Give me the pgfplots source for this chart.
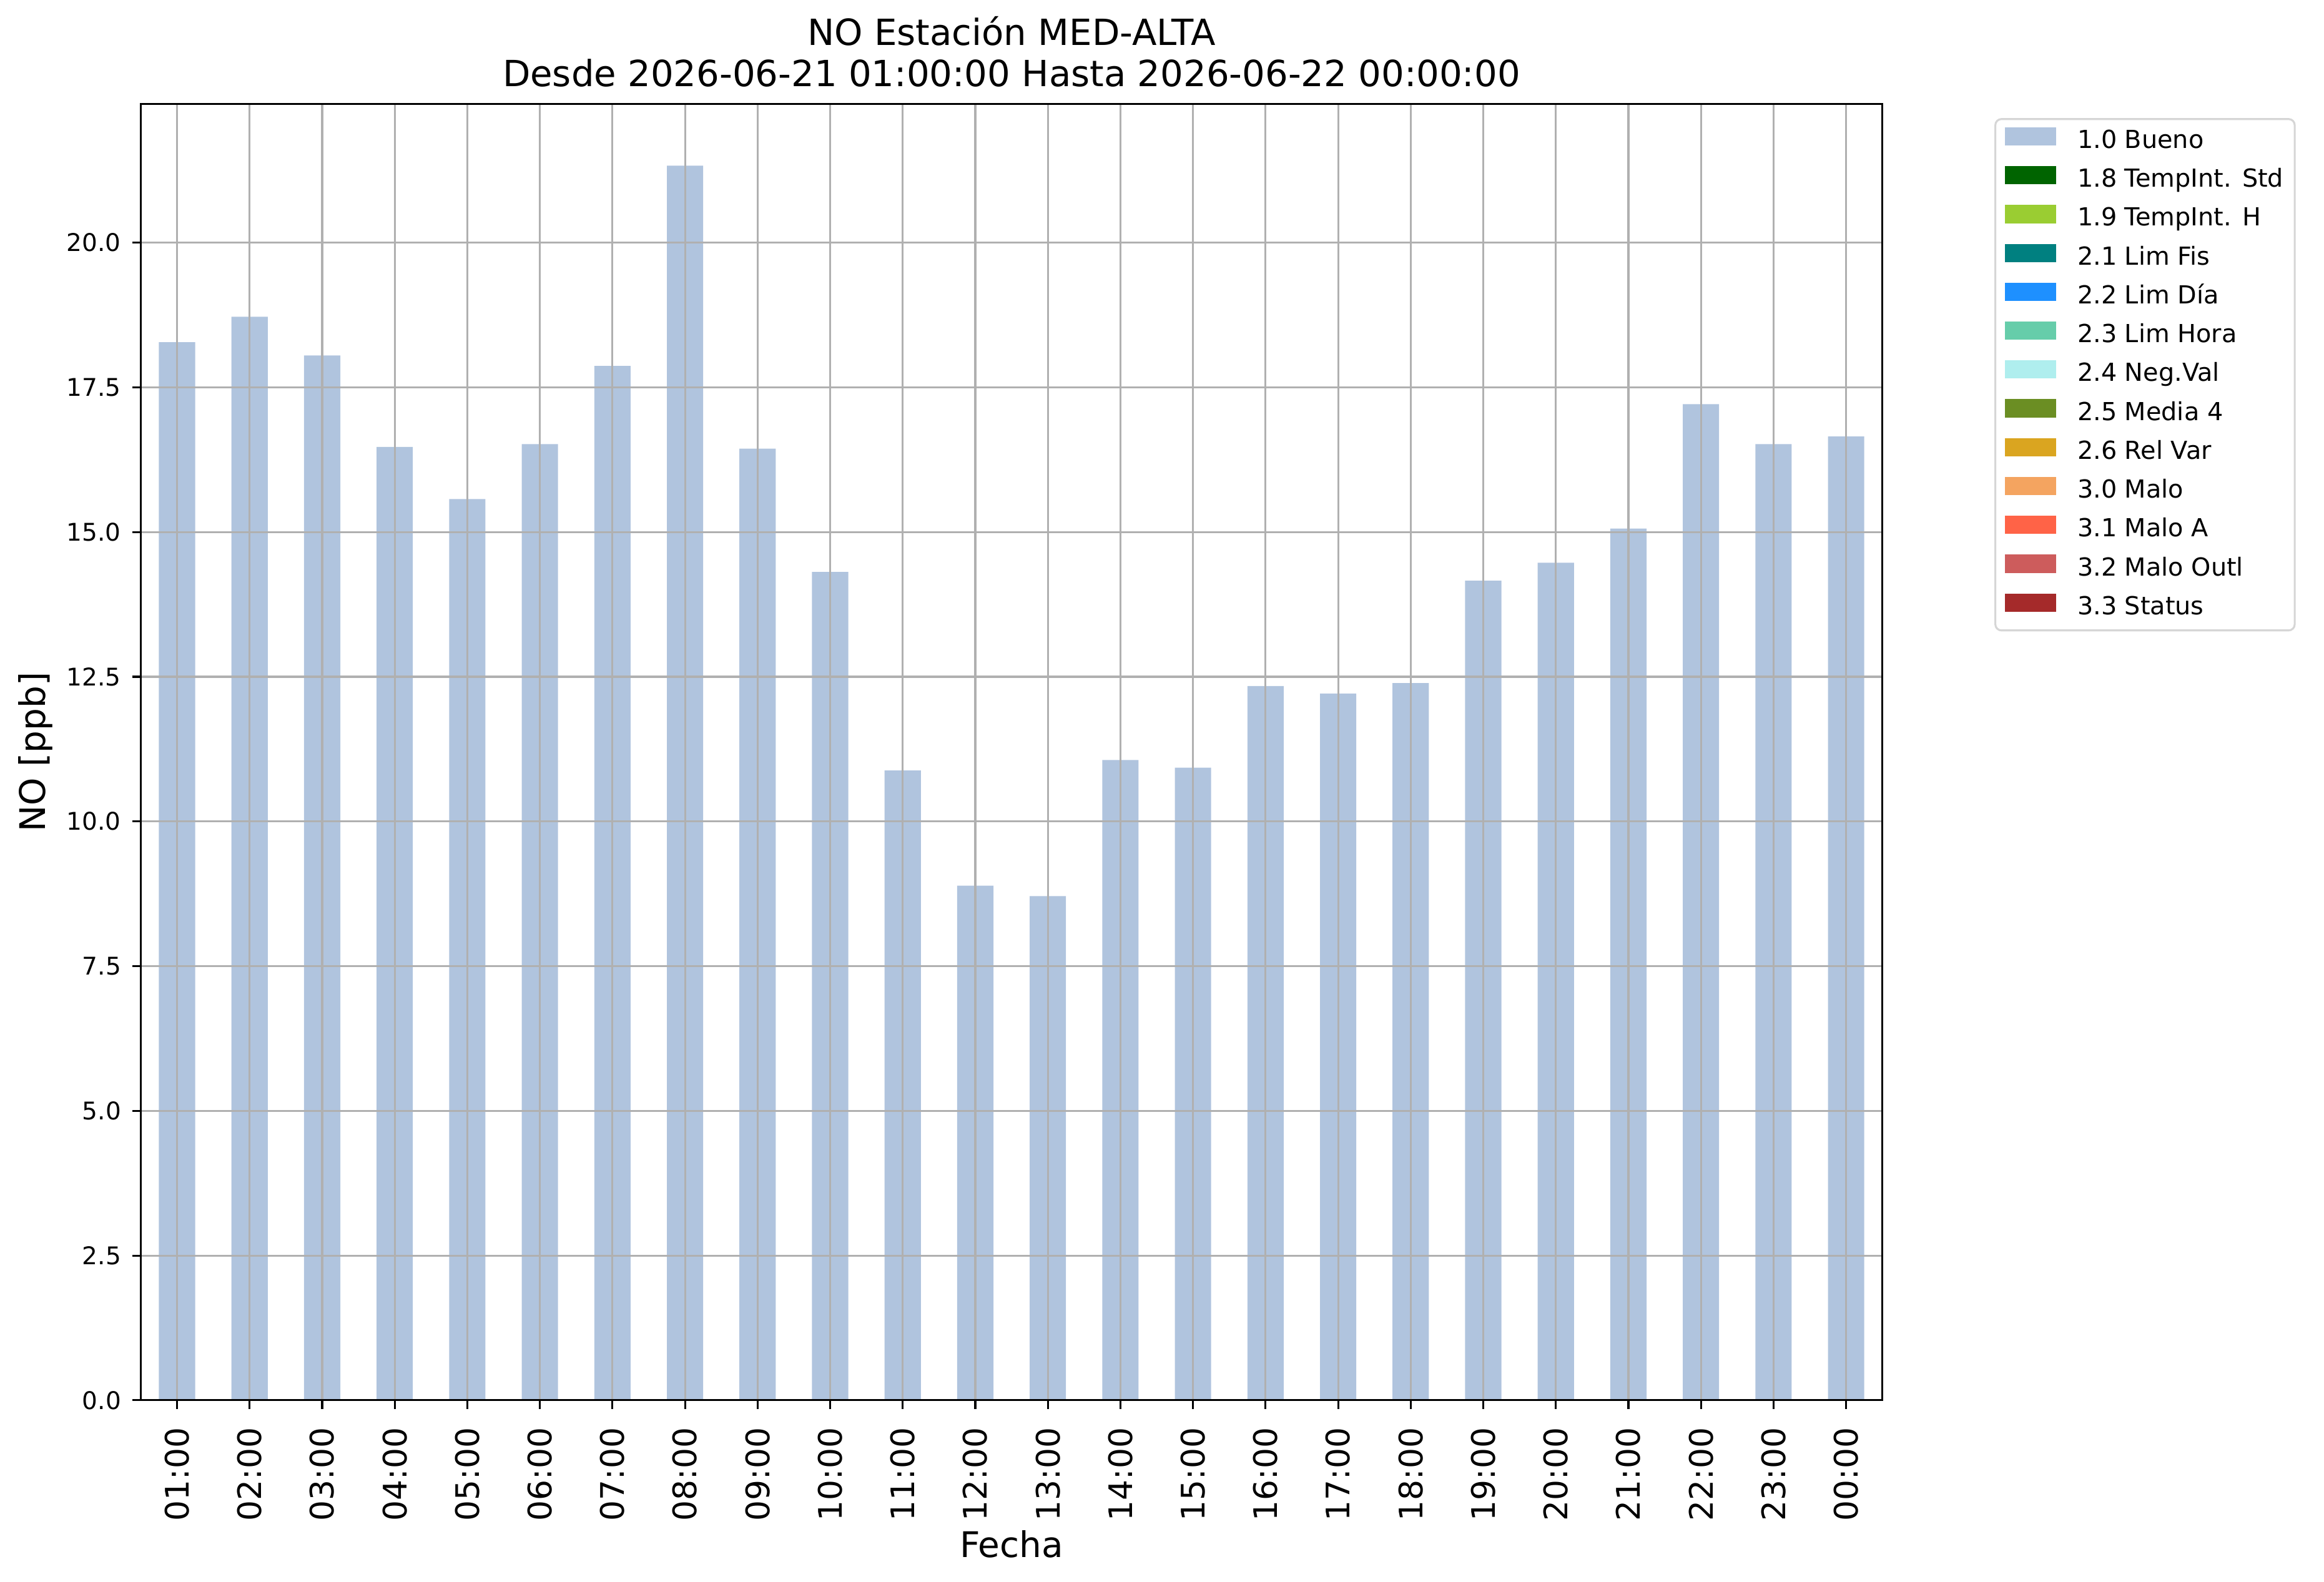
\documentclass[border=0pt]{standalone}
\usepackage{pgfplots}
\pgfplotsset{compat=1.18}
\usepackage{fontspec}
\setmainfont{DejaVu Sans}
\definecolor{c10}{HTML}{B0C4DE}
\definecolor{c18}{HTML}{006400}
\definecolor{c19}{HTML}{9ACD32}
\definecolor{c21}{HTML}{008080}
\definecolor{c22}{HTML}{1E90FF}
\definecolor{c23}{HTML}{66CDAA}
\definecolor{c24}{HTML}{AFEEEE}
\definecolor{c25}{HTML}{6B8E23}
\definecolor{c26}{HTML}{DAA520}
\definecolor{c30}{HTML}{F4A460}
\definecolor{c31}{HTML}{FF6347}
\definecolor{c32}{HTML}{CD5C5C}
\definecolor{c33}{HTML}{A52A2A}
\definecolor{gridgray}{HTML}{B0B0B0}
\definecolor{leggray}{HTML}{D6D6D6}
\begin{document}
\begin{tikzpicture}
\path[use as bounding box] (-57.8pt,-74.6pt) rectangle (896.56pt,575.1pt);
\begin{axis}[
  scale only axis, width=715.2pt, height=532.5pt,
  xmin=-0.5, xmax=23.5, ymin=0, ymax=22.4,
  axis on top,
  xtick={0,1,...,23},
  xticklabels={01:00,02:00,03:00,04:00,05:00,06:00,07:00,08:00,09:00,10:00,11:00,12:00,13:00,14:00,15:00,16:00,17:00,18:00,19:00,20:00,21:00,22:00,23:00,00:00},
  ytick={0,2.5,5,7.5,10,12.5,15,17.5,20},
  yticklabel style={anchor=east, inner sep=0pt, font=\fontsize{10}{12}\selectfont,
    /pgf/number format/fixed, /pgf/number format/fixed zerofill, /pgf/number format/precision=1, /pgf/number format/assume math mode=true},
  xticklabel style={rotate=90, anchor=east, inner sep=0pt, font=\fontsize{13.3}{16}\selectfont},
  xticklabel shift=7.5pt, yticklabel shift=4.4pt,
  grid=major, major grid style={draw=gridgray, line width=0.8pt},
  axis line style={line width=0.8pt, black},
  tick style={line width=0.8pt, black}, major tick length=3.5pt, tick align=outside,
  xtick pos=bottom, ytick pos=left,
  title={NO Estación MED-ALTA\\Desde 2026-06-21 01:00:00 Hasta 2026-06-22 00:00:00},
  title style={align=center, font=\fontsize{14.8}{17}\selectfont, at={(axis description cs:0.5,1)}, anchor=south, inner sep=0pt, yshift=0.6pt},
  xlabel={Fecha}, ylabel={NO [ppb]},
  xlabel style={font=\fontsize{14.5}{17}\selectfont, at={(axis description cs:0.5,-0.1112)}, anchor=center},
  ylabel style={font=\fontsize{14.5}{17}\selectfont, at={(axis description cs:-0.0604,0.5)}, anchor=center},
  legend cell align=left,
  legend image code/.code={\fill[#1,sharp corners] (0pt,-1.6pt) rectangle (21pt,5.9pt);},
  legend style={at={(1.0643,0.9889)}, anchor=north west, draw=leggray, line width=0.8pt, rounded corners=2.5pt,
    inner xsep=4pt, inner ysep=2.65pt, row sep=2.76pt,
    font=\fontsize{10.2}{12}\selectfont,
    nodes={inner xsep=0.6pt, inner ysep=2pt, text height=7.3pt, text depth=1.9pt},
    /tikz/every odd column/.append style={column sep=8.1pt}},
]
\addplot[ybar, bar width=0.5, fill=c10, draw=none] coordinates {
(0,18.28) (1,18.72) (2,18.05) (3,16.47) (4,15.57) (5,16.52) (6,17.87) (7,21.33)
(8,16.44) (9,14.31) (10,10.88) (11,8.89) (12,8.71) (13,11.06) (14,10.93) (15,12.34)
(16,12.21) (17,12.39) (18,14.16) (19,14.47) (20,15.06) (21,17.21) (22,16.52) (23,16.65)
};
\addlegendentry{1.0 Bueno}
\addlegendimage{fill=c18, draw=none}\addlegendentry{1.8 TempInt. Std}
\addlegendimage{fill=c19, draw=none}\addlegendentry{1.9 TempInt. H}
\addlegendimage{fill=c21, draw=none}\addlegendentry{2.1 Lim Fis}
\addlegendimage{fill=c22, draw=none}\addlegendentry{2.2 Lim Día}
\addlegendimage{fill=c23, draw=none}\addlegendentry{2.3 Lim Hora}
\addlegendimage{fill=c24, draw=none}\addlegendentry{2.4 Neg.Val}
\addlegendimage{fill=c25, draw=none}\addlegendentry{2.5 Media 4}
\addlegendimage{fill=c26, draw=none}\addlegendentry{2.6 Rel Var}
\addlegendimage{fill=c30, draw=none}\addlegendentry{3.0 Malo}
\addlegendimage{fill=c31, draw=none}\addlegendentry{3.1 Malo A}
\addlegendimage{fill=c32, draw=none}\addlegendentry{3.2 Malo Outl}
\addlegendimage{fill=c33, draw=none}\addlegendentry{3.3 Status}
\end{axis}
\end{tikzpicture}
\end{document}
